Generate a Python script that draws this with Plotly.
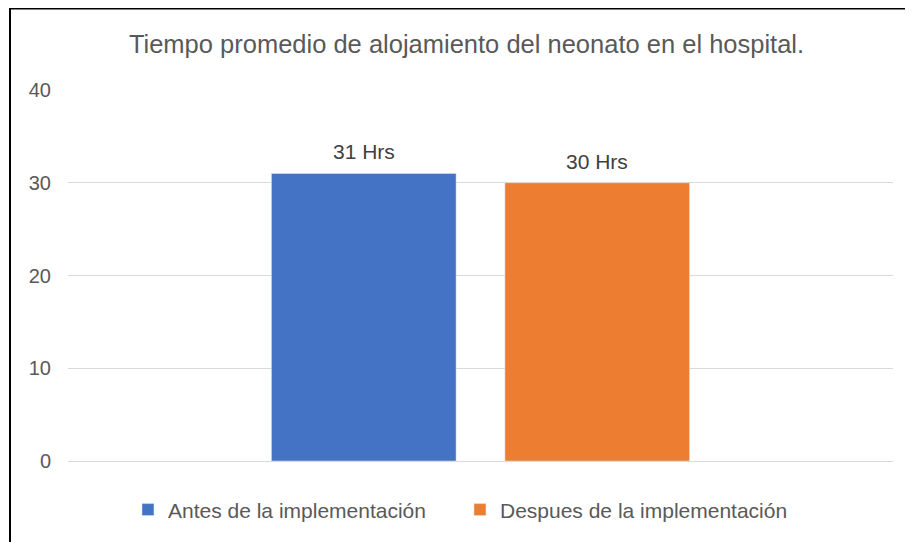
import plotly.graph_objects as go

categories = ["Tiempo promedio"]
series_names = ["Antes de la implementación", "Despues de la implementación"]
antes_values = [31]
despues_values = [30]
value_labels_antes = ["31 Hrs"]
value_labels_despues = ["30 Hrs"]
y_ticks = [0, 10, 20, 30, 40]

FONT = "Liberation Sans, Arial, sans-serif"
GREY = "#595959"
BARGAP = 0.434
BARGROUPGAP = 0.209

fig = go.Figure()
fig.add_trace(go.Bar(
    x=categories, y=antes_values, name=series_names[0],
    marker_color="#4472C4",
))
fig.add_trace(go.Bar(
    x=categories, y=despues_values, name=series_names[1],
    marker_color="#ED7D31",
))

# value labels placed over each bar of the group (centre offset of each slot)
slot = (1 - BARGAP) / 2
annotations = []
for series_idx, (vals, labels) in enumerate([(antes_values, value_labels_antes),
                                             (despues_values, value_labels_despues)]):
    for cat_idx, (v, lab) in enumerate(zip(vals, labels)):
        annotations.append(dict(
            x=cat_idx - slot / 2 + series_idx * slot, y=v, xref="x", yref="y",
            text=lab, showarrow=False, yanchor="bottom", xanchor="center", yshift=8,
            font=dict(size=21, color="#404040", family=FONT),
        ))

fig.update_layout(
    width=913, height=542,
    margin=dict(l=60, r=28, t=82, b=89),
    paper_bgcolor="white", plot_bgcolor="white",
    font=dict(family=FONT, color=GREY),
    barmode="group", bargap=BARGAP, bargroupgap=BARGROUPGAP,
    title=dict(text="Tiempo promedio de alojamiento del neonato en el hospital.",
               x=0.5022, xref="container", xanchor="center",
               y=1 - 36 / 542, yref="container", yanchor="middle",
               font=dict(size=25.5, color=GREY, family=FONT)),
    xaxis=dict(showticklabels=False, showgrid=False, showline=False, ticks="",
               range=[-0.5, 0.5]),
    yaxis=dict(range=[0, 40], tickvals=y_ticks, showgrid=True, gridcolor="#d9d9d9",
               gridwidth=1, zeroline=True, zerolinecolor="#d9d9d9", zerolinewidth=1,
               showline=False, ticks="", ticklen=0,
               tickfont=dict(size=20, color=GREY, family=FONT), ticklabelstandoff=16),
    showlegend=True,
    legend=dict(orientation="h", x=0.0727, xanchor="left", y=-0.132, yanchor="middle",
                font=dict(size=21, color=GREY, family=FONT),
                entrywidth=287, entrywidthmode="pixels",
                traceorder="normal"),
    annotations=annotations,
    shapes=[dict(type="rect", xref="paper", yref="paper",
                 x0=-0.0703, x1=1.2, y0=-0.5, y1=1.2197,
                 line=dict(color="black", width=2), fillcolor="rgba(0,0,0,0)",
                 layer="above")],
)

fig.write_html("out.html")
